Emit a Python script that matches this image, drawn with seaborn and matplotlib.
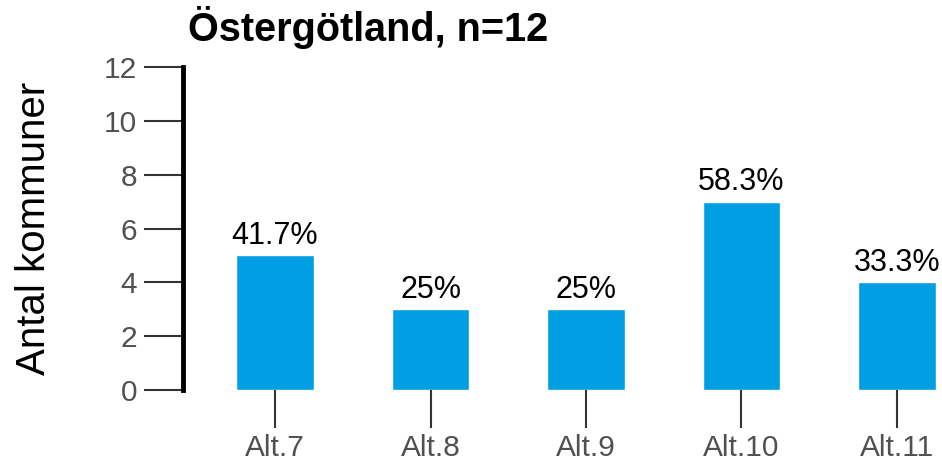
import matplotlib
matplotlib.use("Agg")
import matplotlib.pyplot as plt
import seaborn as sns
import pandas as pd

# Data
categories = ["Alt.7", "Alt.8", "Alt.9", "Alt.10", "Alt.11"]
counts = [5, 3, 3, 7, 4]
pct_labels = ["41.7%", "25%", "25%", "58.3%", "33.3%"]
y_ticks = [0, 2, 4, 6, 8, 10, 12]

sns.set_theme(style="white")
plt.rcParams['font.family'] = ['Liberation Sans', 'DejaVu Sans']

df = pd.DataFrame({"alt": categories, "antal": counts})

fig = plt.figure(figsize=(9.42, 4.65), dpi=100)
ax = fig.add_axes([183 / 942, 1 - 390 / 465, (940 - 183) / 942, 323 / 465])

sns.barplot(data=df, x="alt", y="antal", color="#009FE3", width=0.5,
            saturation=1, ax=ax)

ax.bar_label(ax.containers[0], labels=pct_labels, padding=3,
             fontsize=22, color="black")

ax.set_xlim(-0.592, 4.277)
ax.set_ylim(0, 12)
ax.set_yticks(y_ticks)

sns.despine(ax=ax, top=True, right=True, bottom=True)
ax.spines['left'].set_linewidth(3.5)
ax.spines['left'].set_color("black")

ax.tick_params(axis='y', length=28, width=1.5, color="#333333",
               labelsize=21.5, labelcolor="#505050", pad=5, left=True)
ax.tick_params(axis='x', length=27, width=1.5, color="#333333",
               labelsize=21.5, labelcolor="#505050", pad=5, bottom=True)

ax.set_xlabel("")
ax.set_ylabel("Antal kommuner", fontsize=29, color="black")
ax.yaxis.set_label_coords(-0.172, 0.5)

fig.text(188 / 942, 1 - 41 / 465, "Östergötland, n=12", fontsize=28.5,
         fontweight="bold", va="baseline", ha="left", color="black")

fig.savefig("out.png", dpi=100)
